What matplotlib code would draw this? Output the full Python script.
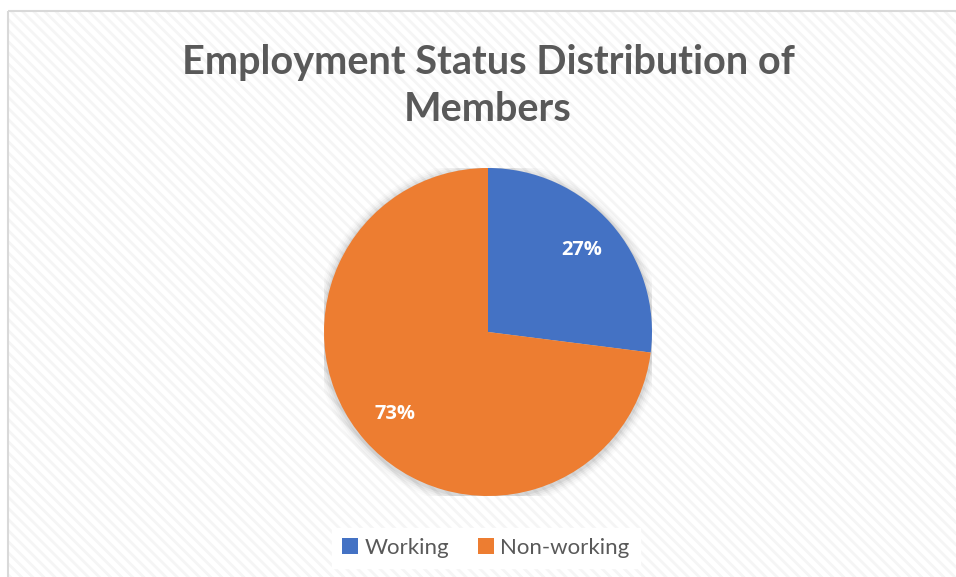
import matplotlib
matplotlib.use('Agg')
import matplotlib.pyplot as plt
from matplotlib.patches import Rectangle, Circle

# data
labels = ['Working', 'Non-working']
shares = [27, 73]
colors = ['#4472C4', '#ED7D31']
title = 'Employment Status Distribution of\nMembers'

plt.rcParams['font.family'] = ['Lato', 'DejaVu Sans']
plt.rcParams['hatch.linewidth'] = 2.0

W, H = 956, 577
fig = plt.figure(figsize=(W / 100, H / 100), dpi=100)

# chart area background with light diagonal stripes and border
bgax = fig.add_axes([0, 0, 1, 1], zorder=-1)
bgax.set_xlim(0, W)
bgax.set_ylim(H, 0)
bgax.axis('off')
bgax.add_patch(Rectangle((8, 11), W, H, facecolor='white', edgecolor='#f5f5f5',
                         hatch='\\\\\\', lw=0))
bgax.add_patch(Rectangle((8, 11), W, H, facecolor='none', edgecolor='#d9d9d9', lw=1.5))

fig.text(488 / W, 1 - 86 / H, title, ha='center', va='center', fontsize=28.5,
         fontweight='bold', color='#595959', linespacing=1.35)

# pie
cx, cy, r = 488, 332, 164
ax = fig.add_axes([(cx - r) / W, (H - cy - r) / H, 2 * r / W, 2 * r / H])
for i, a in enumerate([0.05, 0.04, 0.03, 0.02, 0.015]):
    ax.add_patch(Circle((0, -0.01), 1.0 + 0.012 * (i + 1), color='black', alpha=a, lw=0, zorder=0))
wedges, texts, autotexts = ax.pie(shares, colors=colors, startangle=90, counterclock=False,
                                  autopct='%d%%', pctdistance=0.76, radius=1,
                                  wedgeprops=dict(linewidth=0))
for t in autotexts:
    t.set_color('white')
    t.set_family(['Open Sans', 'DejaVu Sans'])
    t.set_fontweight('bold')
    t.set_fontsize(14.5)
ax.set_xlim(-1, 1)
ax.set_ylim(-1, 1)
ax.set_aspect('equal')
ax.axis('off')

# legend
leg = fig.legend(wedges, labels, loc='center', bbox_to_anchor=(486 / W, 1 - 548 / H),
                 ncol=2, frameon=True, fancybox=False, edgecolor='white', framealpha=1,
                 fontsize=16, handlelength=0.7, handleheight=0.7, handletextpad=0.3,
                 columnspacing=1.3, borderpad=0.45, labelcolor='#595959')

fig.savefig('out.png', dpi=100)
